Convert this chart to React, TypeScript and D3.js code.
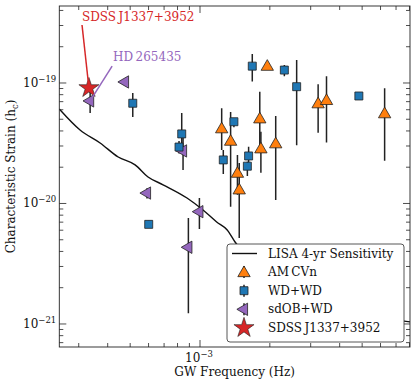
import React from 'react';
import * as d3 from 'd3';

// LISA 4-yr sensitivity curve
const lisaFreq = [2.474e-4, 3.04e-4, 3.71e-4, 4.44e-4, 5.25e-4, 5.97e-4, 6.93e-4, 8.79e-4, 1.03e-3, 1.18e-3, 1.31e-3, 1.416e-3, 1.82e-3, 2.7e-3, 4.44e-3, 8.04e-3];
const lisaStrain = [6.08e-20, 4.07e-20, 3.18e-20, 2.43e-20, 2.09e-20, 1.66e-20, 1.43e-20, 1.11e-20, 8.83e-21, 7.02e-21, 6.03e-21, 4.79e-21, 2.81e-21, 1.74e-21, 1.26e-21, 1.04e-21];

// AM CVn
const amFreq = [1.95e-3, 1.24e-3, 1.355e-3, 1.81e-3, 1.83e-3, 2.12e-3, 1.45e-3, 1.476e-3, 3.23e-3, 3.51e-3, 6.25e-3];
const amStrain = [1.39e-19, 4.21e-20, 3.32e-20, 5.09e-20, 2.87e-20, 3.16e-20, 1.8e-20, 1.31e-20, 6.79e-20, 7.23e-20, 5.61e-20];
const amLo = [1.39e-19, 2.78e-20, 9.4e-21, 2.78e-20, 1.8e-20, 1.07e-20, 1.18e-20, 5.18e-21, 3.87e-20, 3.2e-20, 2.26e-20];
const amHi = [1.39e-19, 6.17e-20, 5.74e-20, 8.47e-20, 3.94e-20, 5.32e-20, 2.52e-20, 2.17e-20, 9.75e-20, 1.14e-19, 9.03e-20];

// WD+WD
const wdFreq = [5.13e-4, 8.34e-4, 8.12e-4, 6.01e-4, 1.68e-3, 2.31e-3, 2.61e-3, 1.4e-3, 1.26e-3, 1.62e-3, 1.6e-3, 4.84e-3];
const wdStrain = [6.79e-20, 3.78e-20, 2.94e-20, 6.71e-21, 1.38e-19, 1.28e-19, 9.32e-20, 4.77e-20, 2.3e-20, 2.48e-20, 2.04e-20, 7.8e-20];
const wdLo = [5.23e-20, 2.78e-20, 2.6e-20, 6.3e-21, 1.03e-19, 1.14e-19, 3.05e-20, 4.3e-20, 1.76e-20, 2.18e-20, 1.69e-20, 7.4e-20];
const wdHi = [8.26e-20, 5.64e-20, 3.3e-20, 7.2e-21, 1.74e-19, 1.41e-19, 1.55e-19, 5.1e-20, 2.78e-20, 2.96e-20, 2.22e-20, 8.2e-20];

// sdOB+WD (first one is HD 265435)
const sdFreq = [3.36e-4, 4.75e-4, 8.45e-4, 5.91e-4, 9.94e-4, 8.91e-4];
const sdStrain = [7.1e-20, 1.02e-19, 2.73e-20, 1.22e-20, 8.55e-21, 4.33e-21];
const sdLo = [5.64e-20, 1.02e-19, 1.9e-20, 1.1e-20, 6.14e-21, 1.23e-21];
const sdHi = [8.5e-20, 1.02e-19, 3.7e-20, 1.34e-20, 1.11e-20, 7.58e-21];

// SDSS J1337+3952
const starFreq = [3.32e-4];
const starStrain = [9.09e-20];

const legendLabels = ['LISA 4-yr Sensitivity', 'AM\u2009CVn', 'WD+WD', 'sdOB+WD', 'SDSS\u2009J1337+3952'];
const yTickExps = [-19, -20, -21];
const xTickExps = [-3];

const W = 416, H = 384;
const margin = { top: 6, right: 6, bottom: 37, left: 59.3 };
const FONT = 'DejaVu Serif';

const colors = { am: '#ff7f0e', wd: '#1f77b4', sd: '#9467bd', star: '#d62728' };

const App = () => {
  const x = d3.scaleLog().domain([2.474e-4, 8.04e-3]).range([margin.left, W - margin.right]);
  const y = d3.scaleLog().domain([6.44e-22, 4.355e-19]).range([H - margin.bottom, margin.top]);
  const [x0, x1] = x.range();
  const [y0, y1] = y.range();

  const line = d3.line<number>()
    .x(i => x(lisaFreq[i]))
    .y(i => y(lisaStrain[i]))
    .curve(d3.curveMonotoneX);

  const tri = d3.symbol().type(d3.symbolTriangle).size(66)();
  const sq = d3.symbol().type(d3.symbolSquare).size(64)();
  const star = d3.symbol().type(d3.symbolStar).size(125)();

  const xMinor: number[] = [];
  const yMinor: number[] = [];
  for (let e = -5; e <= -1; e++) {
    for (let m = 2; m < 10; m++) {
      const v = m * Math.pow(10, e);
      if (v >= x.domain()[0] && v <= x.domain()[1]) xMinor.push(v);
    }
  }
  for (let e = -23; e <= -18; e++) {
    for (let m = 2; m < 10; m++) {
      const v = m * Math.pow(10, e);
      if (v >= y.domain()[0] && v <= y.domain()[1]) yMinor.push(v);
    }
  }

  const errBars = (fs: number[], lo: number[], hi: number[]) =>
    fs.map((f, i) => (
      <line key={i} x1={x(f)} x2={x(f)} y1={y(lo[i])} y2={y(hi[i])} stroke="#222" strokeWidth={1.5} />
    ));

  const tickCol = '#222';
  const legendX = 227, legendY = 244, rowH = 18.6;

  return (
    <svg width={W} height={H} style={{ position: 'absolute', left: 0, top: 0 }} fontFamily={FONT}>
      <defs>
        <clipPath id="plot">
          <rect x={x0} y={y1} width={x1 - x0} height={y0 - y1} />
        </clipPath>
      </defs>
      <rect width={W} height={H} fill="white" />

      <g clipPath="url(#plot)">
        <path d={line(d3.range(lisaFreq.length)) || ''} fill="none" stroke="#111" strokeWidth={1.4} />

        {errBars(amFreq, amLo, amHi)}
        {errBars(wdFreq, wdLo, wdHi)}
        {errBars(sdFreq, sdLo, sdHi)}

        {sdFreq.map((f, i) => (
          <path key={'sd' + i} d={tri!} transform={`translate(${x(f)},${y(sdStrain[i])}) rotate(-90)`}
            fill={colors.sd} stroke="#222" strokeWidth={0.8} />
        ))}
        {wdFreq.map((f, i) => (
          <path key={'wd' + i} d={sq!} transform={`translate(${x(f)},${y(wdStrain[i])})`}
            fill={colors.wd} stroke="#222" strokeWidth={0.8} />
        ))}
        {amFreq.map((f, i) => (
          <path key={'am' + i} d={tri!} transform={`translate(${x(f)},${y(amStrain[i]) + 1})`}
            fill={colors.am} stroke="#222" strokeWidth={0.8} />
        ))}
        {starFreq.map((f, i) => (
          <path key={'st' + i} d={star!} transform={`translate(${x(f)},${y(starStrain[i])})`}
            fill={colors.star} stroke="#222" strokeWidth={0.6} />
        ))}

        {/* annotation leader lines */}
        <line x1={x(3.1e-4)} y1={y(3.03e-19)} x2={x(starFreq[0])} y2={y(starStrain[0])} stroke={colors.star} strokeWidth={1.5} />
        <line x1={x(4.18e-4)} y1={y(1.38e-19)} x2={x(sdFreq[0])} y2={y(sdStrain[0])} stroke={colors.sd} strokeWidth={1.5} />
      </g>

      <text x={x(3.1e-4)} y={y(3.27e-19)} fontSize={12} fill={colors.star}>SDSS{'\u2009'}J1337+3952</text>
      <text x={x(4.22e-4)} y={y(1.52e-19)} fontSize={12} fill={colors.sd}>HD{'\u2009'}265435</text>

      {/* ticks, pointing inwards on all sides */}
      <g stroke={tickCol} strokeWidth={0.8}>
        {xTickExps.map(e => (
          <g key={'xM' + e}>
            <line x1={x(Math.pow(10, e))} x2={x(Math.pow(10, e))} y1={y0} y2={y0 - 7} />
            <line x1={x(Math.pow(10, e))} x2={x(Math.pow(10, e))} y1={y1} y2={y1 + 7} />
          </g>
        ))}
        {xMinor.map(v => (
          <g key={'xm' + v}>
            <line x1={x(v)} x2={x(v)} y1={y0} y2={y0 - 4} />
            <line x1={x(v)} x2={x(v)} y1={y1} y2={y1 + 4} />
          </g>
        ))}
        {yTickExps.map(e => (
          <g key={'yM' + e}>
            <line x1={x0} x2={x0 + 7} y1={y(Math.pow(10, e))} y2={y(Math.pow(10, e))} />
            <line x1={x1} x2={x1 - 7} y1={y(Math.pow(10, e))} y2={y(Math.pow(10, e))} />
          </g>
        ))}
        {yMinor.map(v => (
          <g key={'ym' + v}>
            <line x1={x0} x2={x0 + 4} y1={y(v)} y2={y(v)} />
            <line x1={x1} x2={x1 - 4} y1={y(v)} y2={y(v)} />
          </g>
        ))}
      </g>

      {yTickExps.map(e => (
        <text key={'yl' + e} x={x0 - 3} y={y(Math.pow(10, e)) + 4} fontSize={12} textAnchor="end" fill="#111">
          10<tspan dy={-5} fontSize={8.5}>{'\u2212' + Math.abs(e)}</tspan>
        </text>
      ))}
      {xTickExps.map(e => (
        <text key={'xl' + e} x={x(Math.pow(10, e)) - 1} y={y0 + 15} fontSize={12} textAnchor="middle" fill="#111">
          10<tspan dy={-5} fontSize={8.5}>{'\u2212' + Math.abs(e)}</tspan>
        </text>
      ))}

      <rect x={x0} y={y1} width={x1 - x0} height={y0 - y1} fill="none" stroke="#222" strokeWidth={0.9} />

      <text x={(x0 + x1) / 2} y={376} fontSize={12} textAnchor="middle" fill="#111">GW Frequency (Hz)</text>
      <text transform={`translate(15,${(y0 + y1) / 2}) rotate(-90)`} fontSize={12} textAnchor="middle" fill="#111">
        Characteristic Strain (h<tspan dy={3} fontSize={8.5}>c</tspan><tspan dy={-3}>)</tspan>
      </text>

      {/* legend */}
      <g>
        <rect x={legendX} y={legendY} width={177} height={98} rx={3} fill="white" stroke="#444" strokeWidth={0.9} />
        {legendLabels.map((lab, i) => {
          const cy = legendY + 9.5 + i * rowH;
          const mx = legendX + 17;
          let mark: React.ReactNode = null;
          if (i === 0) mark = <line x1={mx - 12} x2={mx + 13} y1={cy} y2={cy} stroke="#111" strokeWidth={1.4} />;
          if (i === 1) mark = <g><line x1={mx} x2={mx} y1={cy - 6} y2={cy + 6} stroke="#222" strokeWidth={1.5} /><path d={tri!} transform={`translate(${mx},${cy + 1})`} fill={colors.am} stroke="#222" strokeWidth={0.8} /></g>;
          if (i === 2) mark = <g><line x1={mx} x2={mx} y1={cy - 6} y2={cy + 6} stroke="#222" strokeWidth={1.5} /><path d={sq!} transform={`translate(${mx},${cy})`} fill={colors.wd} stroke="#222" strokeWidth={0.8} /></g>;
          if (i === 3) mark = <g><line x1={mx} x2={mx} y1={cy - 6} y2={cy + 6} stroke="#222" strokeWidth={1.5} /><path d={tri!} transform={`translate(${mx},${cy}) rotate(-90)`} fill={colors.sd} stroke="#222" strokeWidth={0.8} /></g>;
          if (i === 4) mark = <path d={star!} transform={`translate(${mx},${cy})`} fill={colors.star} stroke="#222" strokeWidth={0.6} />;
          return (
            <g key={lab}>
              {mark}
              <text x={legendX + 41} y={cy + 4} fontSize={12} fill="#111">{lab}</text>
            </g>
          );
        })}
      </g>
    </svg>
  );
};

export default App;
